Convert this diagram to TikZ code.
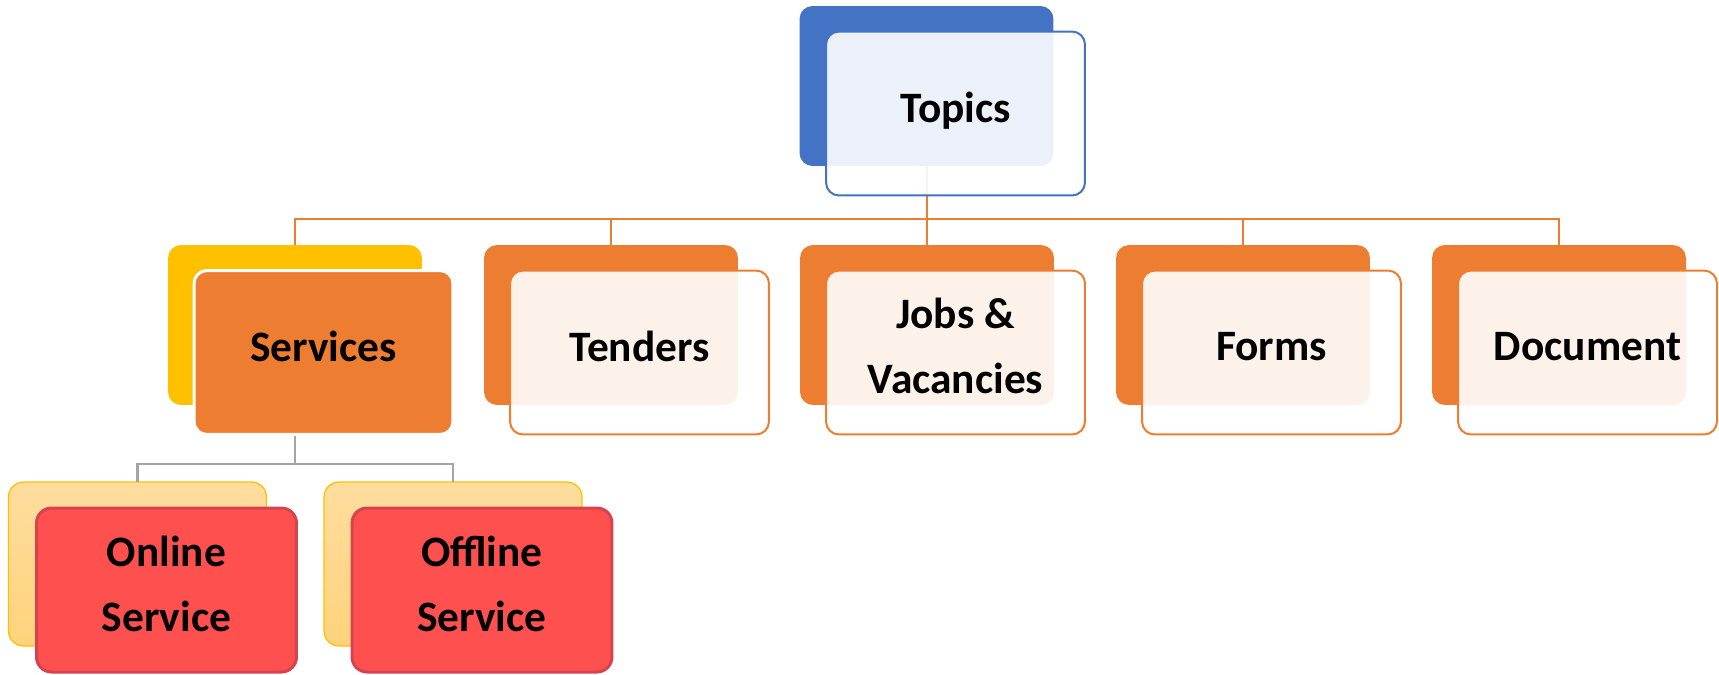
\documentclass[tikz,border=0pt]{standalone}
\usepackage{fontspec}
\setmainfont{Carlito}
\definecolor{topblue}{HTML}{4472C4}
\definecolor{accorange}{HTML}{ED7D31}
\definecolor{accyellow}{HTML}{FFC000}
\definecolor{paletop}{HTML}{FFDD9E}
\definecolor{palebottom}{HTML}{FFD37C}
\definecolor{subred}{HTML}{FF5050}
\definecolor{subredline}{HTML}{D6434F}
\definecolor{linkgray}{HTML}{A5A5A5}
\begin{document}
\begin{tikzpicture}[x=0.02cm,y=-0.02cm,
  every node/.style={inner sep=0pt, outer sep=0pt, align=center, font=\fontsize{24.7}{37}\selectfont\bfseries},
  lifted/.style={execute at end node={\rule[-0.26cm]{0pt}{0pt}}},
  backbox/.style={rounded corners=0.26cm, minimum width=5.08cm, minimum height=3.2cm},
  frontbox/.style={lifted, rounded corners=0.26cm, minimum width=5.18cm, minimum height=3.28cm, line width=0.04cm, fill=white, fill opacity=0.9, text opacity=1},
  subback/.style={rounded corners=0.3cm, minimum width=5.16cm, minimum height=3.28cm, draw=accyellow, line width=0.025cm, top color=paletop, bottom color=palebottom},
  subfront/.style={lifted, rounded corners=0.3cm, minimum width=5.2cm, minimum height=3.28cm, draw=subredline, fill=subred, line width=0.06cm},
  orangelink/.style={draw=accorange, line width=0.04cm},
  graylink/.style={draw=linkgray, line width=0.05cm}]
\useasboundingbox (0,0) rectangle (1719,674);
\node[backbox, fill=topblue] (topicsB) at (926.5,86) {};
\node[backbox, fill=accyellow] (servicesB) at (295,325) {};
\node[backbox, fill=accorange] (tendersB) at (611,325) {};
\node[backbox, fill=accorange] (jobsB) at (927,325) {};
\node[backbox, fill=accorange] (formsB) at (1243,325) {};
\node[backbox, fill=accorange] (documentB) at (1559,325) {};
\node[subback] (onlineB) at (137.5,564) {};
\node[subback] (offlineB) at (453,564) {};
\foreach \kid in {servicesB,tendersB,jobsB,formsB,documentB}
  \draw[orangelink] (topicsB.south) -- ++(0,53) -| (\kid.north);
\foreach \kid in {onlineB,offlineB}
  \draw[graylink] (servicesB.south) -- ++(0,59) -| (\kid.north);
\node[frontbox, draw=topblue] (topics) at (955.5,113.5) {Topics};
\node[frontbox, draw=white, fill=accorange, fill opacity=1, line width=0.06cm] (services) at (323.5,352.5) {Services};
\node[frontbox, draw=accorange] (tenders) at (639.5,352.5) {Tenders};
\node[frontbox, draw=accorange] (jobs) at (955.5,352.5) {Jobs \&\\Vacancies};
\node[frontbox, draw=accorange] (forms) at (1271.5,352.5) {Forms};
\node[frontbox, draw=accorange] (document) at (1587.5,352.5) {Document};
\node[subfront] (online) at (166.5,590) {Online\\Service};
\node[subfront] (offline) at (482,590) {Offline\\Service};
\end{tikzpicture}
\end{document}
